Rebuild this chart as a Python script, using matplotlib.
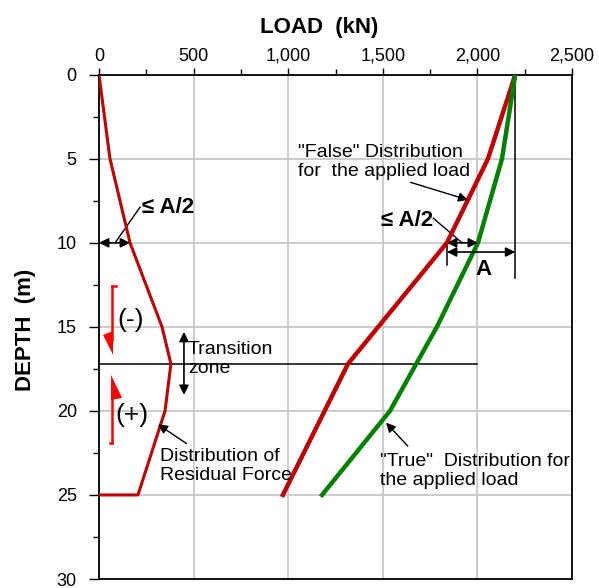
import matplotlib
matplotlib.use("Agg")
import matplotlib.pyplot as plt
import matplotlib.transforms as mtransforms
from matplotlib.patches import Polygon

plt.rcParams['font.family'] = ['Liberation Sans', 'DejaVu Sans']

# depth (m) and load (kN)
residual_depth = [0, 5, 10, 15, 17.2, 20, 25, 25]
residual_load = [0, 58, 164, 333, 380, 349, 206, 0]

false_depth = [0, 5, 10, 17.2, 25]
false_load = [2200, 2056, 1839, 1316, 972]

true_depth = [0, 5, 10, 15, 20, 25]
true_load = [2200, 2130, 2003, 1786, 1538, 1179]

transition_depth = 17.2
transition_end = 2000
x_ticks = [0, 500, 1000, 1500, 2000, 2500]
x_labels = ['0', '500', '1,000', '1,500', '2,000', '2,500']
y_ticks = [0, 5, 10, 15, 20, 25, 30]

RED = '#c00000'
GREEN = '#008000'
FS = 13
TFS = 14


def half_head(ax, x, y, verts_px, color):
    """Small one-sided arrow head drawn in pixel offsets from a data point"""
    fig = ax.figure
    trans = (mtransforms.Affine2D().scale(1 / fig.dpi, -1 / fig.dpi) + fig.dpi_scale_trans
             + mtransforms.ScaledTranslation(x, y, ax.transData))
    ax.add_patch(Polygon(verts_px, closed=True, transform=trans, color=color, lw=0, clip_on=False))


def double_arrow(ax, x0, x1, y, lw=1.2):
    ax.annotate('', xy=(x1, y), xytext=(x0, y),
                arrowprops=dict(arrowstyle='<|-|>', color='black', lw=lw,
                                mutation_scale=14, shrinkA=0, shrinkB=0))


fig = plt.figure(figsize=(5.99, 5.88), dpi=100)
ax = fig.add_axes([99 / 599, 1 - 579 / 588, 473 / 599, (579 - 74.7) / 588])

ax.set_xlim(0, 2500)
ax.set_ylim(30, 0)
ax.xaxis.tick_top()
ax.set_xticks(x_ticks)
ax.set_xticklabels(x_labels)
ax.set_xticks([250, 750, 1250, 1750, 2250], minor=True)
ax.set_yticks(y_ticks)
ax.set_yticks([2.5, 7.5, 12.5, 17.5, 22.5, 27.5], minor=True)
ax.tick_params(axis='x', which='major', direction='out', length=5, width=1, labelsize=FS, pad=2, top=True, bottom=False)
ax.tick_params(axis='x', which='minor', direction='out', length=4, width=1, top=True, bottom=False)
ax.tick_params(axis='y', which='major', direction='out', length=7, width=1, labelsize=FS, pad=9)
ax.tick_params(axis='y', which='minor', direction='out', length=4, width=1)
ax.grid(True, which='major', color='#c8c8c8', lw=1.3)
ax.set_axisbelow(True)
for sp in ax.spines.values():
    sp.set_linewidth(1.3)

ax.plot(residual_load, residual_depth, color=RED, lw=2.2, solid_joinstyle='round', zorder=3)
ax.plot(false_load, false_depth, color=RED, lw=3.2, solid_joinstyle='round', zorder=3)
ax.plot(true_load, true_depth, color=GREEN, lw=3.2, solid_joinstyle='round', zorder=3)

# transition line
ax.plot([0, transition_end], [transition_depth, transition_depth], color='black', lw=1.1, zorder=2)

# A reference line and the A / A/2 dimensions on the right
ax.plot([2200, 2200], [0, 12.1], color='black', lw=1.1)
ax.plot([1839, 1839], [9.85, 11.3], color='black', lw=1.1)
double_arrow(ax, 1839, 2003, 10)
double_arrow(ax, 1839, 2200, 10.55)
ax.text(2030, 11.6, 'A', fontsize=16, fontweight='bold', ha='center', va='center')
ax.text(1490, 8.66, '≤ A/2', fontsize=16, fontweight='bold', ha='left', va='center')
ax.plot([1767, 1919], [8.54, 10], color='black', lw=1.0)

# A/2 on the residual curve
double_arrow(ax, 0, 164, 10)
ax.text(228, 7.9, '≤ A/2', fontsize=16, fontweight='bold', ha='left', va='center')
ax.plot([217, 85], [7.88, 10], color='black', lw=1.0)

# curve labels
ax.annotate('"False" Distribution\nfor  the applied load', xy=(1950, 7.45), xytext=(1053, 4.1),
            fontsize=TFS, ha='left', va='top', linespacing=1.15,
            arrowprops=dict(arrowstyle='-|>', color='black', lw=1.0, mutation_scale=14,
                            shrinkA=0, shrinkB=0, relpos=(0.6, 0.0)))
ax.annotate('"True"  Distribution for\nthe applied load', xy=(1517, 20.7), xytext=(1485, 22.5),
            fontsize=TFS, ha='left', va='top', linespacing=1.15,
            arrowprops=dict(arrowstyle='-|>', color='black', lw=1.0, mutation_scale=14,
                            shrinkA=4, shrinkB=0, relpos=(0.18, 1.0)))
ax.annotate('Distribution of\nResidual Force', xy=(312, 20.8), xytext=(322, 22.2),
            fontsize=TFS, ha='left', va='top', linespacing=1.15,
            arrowprops=dict(arrowstyle='-|>', color='black', lw=1.0, mutation_scale=14,
                            shrinkA=2, shrinkB=0, relpos=(0.25, 1.0)))

# transition zone
ax.annotate('', xy=(449, 15.3), xytext=(449, 19.05),
            arrowprops=dict(arrowstyle='<|-|>', color='black', lw=1.2,
                            mutation_scale=14, shrinkA=0, shrinkB=0))
ax.text(470, 15.85, 'Transition\nzone', fontsize=TFS, ha='left', va='top', linespacing=1.15)

# (-) and (+) zones
ax.plot([69, 69], [12.57, 15.8], color='red', lw=1.8)
ax.plot([69, 90], [12.57, 12.57], color='red', lw=1.8)
half_head(ax, 69, 16.67, [(1, 0), (1, -24), (-9, -20)], 'red')
ax.text(95, 14.6, '(-)', fontsize=19, ha='left', va='center')

ax.plot([69, 69], [21.9, 18.7], color='red', lw=1.8)
ax.plot([58, 69], [21.9, 21.9], color='red', lw=1.8)
half_head(ax, 69, 17.86, [(-1, 0), (-1, 25), (10, 23)], 'red')
ax.text(85, 20.25, '(+)', fontsize=19, ha='left', va='center')

fig.text(319 / 599, 1 - 27 / 588, 'LOAD  (kN)', fontsize=16, fontweight='bold', ha='center', va='center')
fig.text(25 / 599, 1 - 330 / 588, 'DEPTH  (m)', fontsize=16, fontweight='bold', ha='center', va='center', rotation=90)

fig.savefig('out.png', dpi=100)
